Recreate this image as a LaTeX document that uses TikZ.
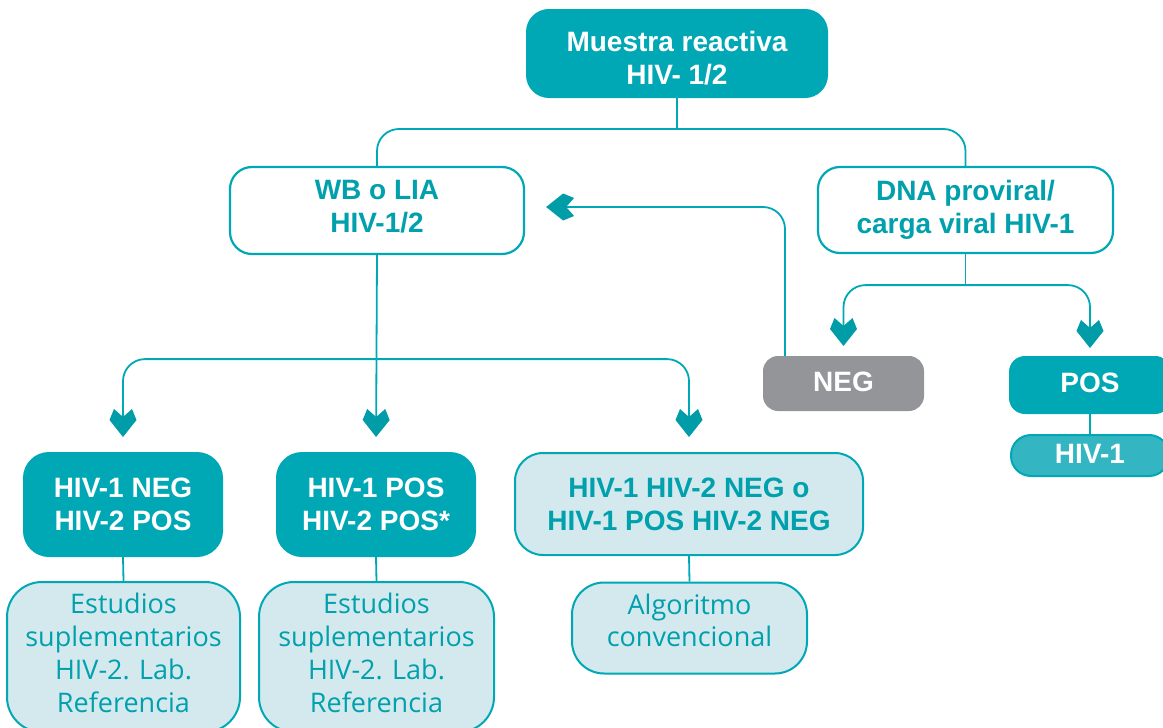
\documentclass[tikz,border=0pt]{standalone}
\usepackage{fontspec}
\setmainfont{Open Sans}
\newfontfamily\libsans{Liberation Sans}
\usetikzlibrary{calc}
\definecolor{tealc}{RGB}{0,168,181}
\definecolor{tealdk}{RGB}{0,156,168}
\definecolor{tealtx}{RGB}{0,160,172}
\definecolor{lightc}{RGB}{211,233,238}
\definecolor{greyc}{RGB}{147,149,152}
\definecolor{midc}{RGB}{51,181,194}
\pgfdeclarearrow{
  name = Chev,
  setup code = {
    \pgfarrowssettipend{0pt}
    \pgfarrowssetlineend{-14pt}
    \pgfarrowssetbackend{-28pt}
    \pgfarrowshullpoint{0pt}{0pt}
    \pgfarrowshullpoint{-28pt}{13pt}
    \pgfarrowshullpoint{-28pt}{-13pt}
  },
  drawing code = {
    \pgfsetfillcolor{tealdk}
    \pgfpathmoveto{\pgfqpoint{0pt}{0pt}}
    \pgfpathlineto{\pgfqpoint{-17pt}{13.5pt}}
    \pgfpathlineto{\pgfqpoint{-28pt}{9pt}}
    \pgfpathlineto{\pgfqpoint{-20pt}{0pt}}
    \pgfpathlineto{\pgfqpoint{-28pt}{-9pt}}
    \pgfpathlineto{\pgfqpoint{-17pt}{-13.5pt}}
    \pgfpathclose
    \pgfusepathqfill
  },
  defaults = {}
}
\tikzset{
  bfsz/.style={font=\libsans\bfseries\fontsize{28}{33}\selectfont},
  rgsz/.style={font=\fontsize{27}{33}\selectfont},
  fillbox/.style={bfsz, draw=tealc, fill=tealc, text=white, line width=2pt, align=center, inner sep=0pt},
  outbox/.style={bfsz, draw=tealc, fill=white, text=tealtx, line width=2.2pt, align=center, inner sep=0pt},
  lightbox/.style={draw=tealc, fill=lightc, text=tealtx, line width=2pt, align=center, inner sep=0pt},
  conn/.style={draw=tealc, line width=1.8pt},
}
\begin{document}
\begin{tikzpicture}[x=1pt,y=-1pt]
\useasboundingbox (0,0) rectangle (1163,728);
\begin{scope}
\clip (0,0) rectangle (1163,728);
% nodes
\node[fillbox, rounded corners=22pt, minimum width=300pt, minimum height=87pt] (top) at (677,53.5) {\rule{0pt}{30.5pt}Muestra reactiva\\HIV- 1/2};
\node[outbox, rounded corners=22pt, minimum width=294pt, minimum height=87pt] (wb) at (377,210.5) {WB o LIA\\HIV-1/2\rule[-8pt]{0pt}{8pt}};
\node[outbox, rounded corners=22pt, minimum width=295pt, minimum height=86pt] (dna) at (965.5,210) {DNA proviral/\\carga viral HIV-1};
\node[fillbox, draw=greyc, fill=greyc, rounded corners=14pt, minimum width=159pt, minimum height=53pt] (neg) at (843.5,383.5) {NEG\rule[-3pt]{0pt}{3pt}};
\node[fillbox, rounded corners=15pt, minimum width=160pt, minimum height=56pt] (pos) at (1090,385) {POS\rule[-4pt]{0pt}{4pt}};
\node[fillbox, fill=midc, rounded corners=20pt, minimum width=158pt, minimum height=41pt] (hiv) at (1090,455.5) {HIV-1\rule[-4pt]{0pt}{4pt}};
\node[fillbox, rounded corners=25pt, minimum width=198pt, minimum height=103pt] (n1) at (123,504.5) {HIV-1 NEG\\HIV-2 POS};
\node[fillbox, rounded corners=25pt, minimum width=198pt, minimum height=103pt] (n2) at (376,504.5) {HIV-1 POS\\HIV-2 POS*};
\node[lightbox, bfsz, rounded corners=28pt, minimum width=348pt, minimum height=102pt] (n3) at (689,504) {HIV-1 HIV-2 NEG o\\HIV-1 POS HIV-2 NEG};
\node[lightbox, rgsz, rounded corners=35pt, minimum width=233pt, minimum height=150pt] (e1) at (123.5,657) {};
\node[lightbox, rgsz, rounded corners=35pt, minimum width=235pt, minimum height=150pt] (e2) at (376.5,657) {};
\node[rgsz, text=tealtx, align=center, inner sep=0pt] (t1) at (123.5,652.5) {Estudios\\suplementarios\\HIV-2. Lab.\\Referencia};
\node[rgsz, text=tealtx, align=center, inner sep=0pt] (t2) at (376.5,652.5) {Estudios\\suplementarios\\HIV-2. Lab.\\Referencia};
\node[lightbox, font=\fontsize{27}{32}\selectfont, rounded corners=32pt, minimum width=235pt, minimum height=91pt] (alg) at (689.5,628) {Algoritmo\\convencional\rule[-16pt]{0pt}{16pt}};
% junctions
\coordinate (j1) at ($(top.south)+(0,31)$);
\coordinate (j2) at ($(wb.south)+(0,104)$);
\coordinate (j3) at ($(dna.south)+(0,31)$);
\coordinate (nk) at ($(neg.north west)+(22,0)$);
\coordinate (wbr) at ($(wb.east)+(0,-3.5)$);
% connectors
\draw[conn] (top.south) -- (j1);
\draw[conn, rounded corners=22pt] (wb.north) |- (j1) -| (dna.north);
\draw[conn, Chev-, shorten <=21pt, rounded corners=22pt] (wbr) -| (nk);
\draw[conn, -Chev, shorten >=15pt] (wb.south) -- (n2.north);
\draw[conn, Chev-Chev, shorten <=15pt, shorten >=15pt, rounded corners=22pt] (n1.north) |- (j2) -| (n3.north);
\draw[conn] (dna.south) -- (j3);
\draw[conn, Chev-Chev, shorten <=10pt, shorten >=8pt, rounded corners=22pt] (neg.north) |- (j3) -| (pos.north);
\draw[conn] (pos.south) -- (hiv.north);
\draw[conn] (n1.south) -- (e1.north);
\draw[conn] (n2.south) -- (e2.north);
\draw[conn] (n3.south) -- (alg.north);
\end{scope}
\end{tikzpicture}
\end{document}
